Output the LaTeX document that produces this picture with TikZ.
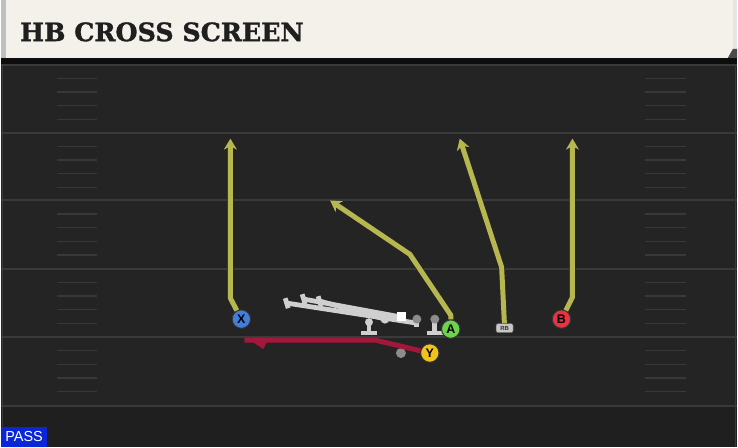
\documentclass[tikz,border=0pt]{standalone}
\usepackage{fontspec}
\usetikzlibrary{arrows.meta}
\newfontfamily\titlefont{DejaVu Serif}[BoldFeatures={FakeBold=1.3}]
\newfontfamily\labelfont{Liberation Sans}

\definecolor{field}{HTML}{242424}
\definecolor{fieldline}{HTML}{3A3A3A}
\definecolor{cream}{HTML}{F4F1EA}
\definecolor{olive}{HTML}{B6B74F}
\definecolor{screenred}{HTML}{A3173A}
\definecolor{olgray}{HTML}{CFCFCF}
\definecolor{passblue}{HTML}{0A26D8}

\begin{document}
\begin{tikzpicture}[x=1pt, y=-1pt,
    player/.style={circle, minimum size=18.5pt, inner sep=0pt, draw=black!80, line width=1pt, font=\labelfont\bfseries\fontsize{12.5}{12.5}\selectfont},
    route/.style={draw=olive, line width=5pt, line join=round, preaction={draw=black!85, line width=6.5pt}, -{Stealth[length=11pt, width=13pt, inset=3.5pt]}},
    oline/.style={draw=olgray, line width=4.8pt},
    hash/.style={draw=black!78, line width=1.3pt}]
    % field
    \fill[field] (0,0) rectangle (738,448);
    \fill[black!88] (0,407) rectangle (738,448);
    \fill[black!95] (0,56) rectangle (738,64);
    \draw[fieldline, line width=1pt] (2,64) -- (2,448);
    \draw[fieldline, line width=1pt] (736,64) -- (736,448);
    \foreach \yl in {65,133,201,269.5,338,407}
        \draw[fieldline, line width=2pt] (0,\yl) -- (738,\yl);
    \foreach \yl in {65,133,201,269.5,338} {
        \foreach \k in {1,...,4} {
            \draw[hash] (56,\yl+13.7*\k) -- (96,\yl+13.7*\k);
            \draw[hash] (646,\yl+13.7*\k) -- (687,\yl+13.7*\k);
        }
    }

    % title bar
    \fill[cream] (5,0) -- (734,0) -- (734,49) -- (729,58) -- (5,58) -- cycle;
    \fill[black!25] (0,0) rectangle (5,58);
    \fill[black!10] (734,0) -- (738,0) -- (738,49) -- (734,49) -- cycle;
    \fill[black!70] (734,49) -- (738,49) -- (738,58) -- (729,58) -- cycle;
    \node[anchor=west, inner sep=0pt, text=black!88] (title) at (19,32)
        {\titlefont\bfseries\fontsize{25.4}{25.4}\selectfont HB CROSS SCREEN};

    % offensive line
    \draw[oline] (287,304) -- (417,324);
    \draw[oline] (304,300) -- (402,318);
    \draw[oline] (320,302) -- (385,320);
    \draw[oline] (285,299) -- (288,309);
    \draw[oline] (302,295) -- (305,305);
    \draw[oline] (318,297) -- (321,307);
    \draw[oline] (417,320) -- (417,328);
    \fill[white] (397,313) rectangle (406,322);
    \fill[olgray] (385,320) circle (4.5);
    \fill[black!45] (417,320) circle (4.5);
    \draw[oline] (369,323) -- (369,333);
    \draw[oline] (361,334) -- (377,334);
    \fill[olgray] (369,323) circle (4);
    \draw[oline] (435,320) -- (435,333);
    \draw[oline] (427,334) -- (443,334);
    \fill[black!45] (435,320) circle (4.5);
    \fill[black!45] (401,354) circle (5);

    % players
    \node[player, fill={rgb,255:red,66;green,126;blue,222}] (x) at (241,320) {X};
    \node[player, fill={rgb,255:red,110;green,210;blue,74}] (a) at (451,330) {A};
    \node[player, fill={rgb,255:red,232;green,52;blue,64}] (b) at (562,320) {B};
    \node[player, fill={rgb,255:red,242;green,194;blue,28}] (y) at (430,354) {Y};
    \node[draw=black!60, fill=black!22, rounded corners=2pt, minimum width=17pt, minimum height=9pt, inner sep=0pt,
        font=\labelfont\bfseries\fontsize{6}{6}\selectfont, text=black!80] (rb) at (505,329) {RB};

    % routes
    \draw[route] (x) -- (230,299) -- (230,139);
    \draw[route] (a) -- (451,316) -- (410,255) -- (330,201);
    \draw[route] (rb) -- (502,268) -- (460,139);
    \draw[route] (b) -- (573,298) -- (573,139);
    \draw[screenred, line width=5pt, line join=round] (y) -- (375,341) -- (244,341);
    \fill[screenred] (251,342) -- (267,342) -- (263,350) -- cycle;

    % play type
    \node[fill=passblue, anchor=south west, minimum width=46pt, minimum height=20pt, inner sep=0pt,
        text=white, font=\labelfont\fontsize{14.5}{14.5}\selectfont] (pass) at (0,448) {PASS};
\end{tikzpicture}
\end{document}
